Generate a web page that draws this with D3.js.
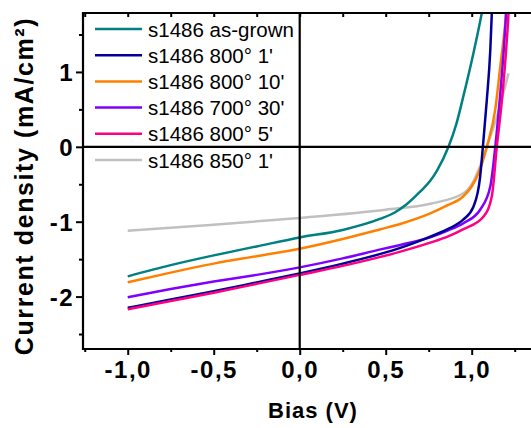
<!DOCTYPE html>
<html>
<head>
<meta charset="utf-8">
<script src="https://cdn.jsdelivr.net/npm/d3@7"></script>
<style>
  html, body { margin: 0; padding: 0; background: #fff; }
  svg { display: block; }
</style>
</head>
<body>
<svg id="chart" width="531" height="428"></svg>
<script>
// ---------------- data ----------------
const seriesNames = ["s1486 as-grown", "s1486 800° 1'", "s1486 800° 10'", "s1486 700° 30'", "s1486 800° 5'", "s1486 850° 1'"];

const asGrown = [[-1.0,-1.73],[-0.75,-1.58],[-0.5,-1.45],[-0.25,-1.33],[0,-1.21],[0.25,-1.11],[0.47,-0.96],[0.55,-0.88],[0.62,-0.77],[0.7,-0.60],[0.76,-0.45],[0.8,-0.31],[0.865,0],[0.91,0.30],[0.952,0.68],[1.01,1.25],[1.059,1.79],[1.08,2.05]];
const a800_1 = [[-1.0,-2.15],[-0.75,-2.04],[-0.5,-1.93],[-0.25,-1.81],[0,-1.69],[0.25,-1.56],[0.47,-1.43],[0.585,-1.35],[0.759,-1.20],[0.86,-1.10],[0.952,-0.97],[1.01,-0.80],[1.049,-0.40],[1.065,0],[1.088,0.63],[1.108,1.29],[1.117,1.79],[1.122,2.05]];
const a800_10 = [[-1.0,-1.81],[-0.75,-1.68],[-0.5,-1.56],[-0.25,-1.46],[0,-1.36],[0.25,-1.23],[0.47,-1.10],[0.585,-1.03],[0.759,-0.89],[0.86,-0.78],[0.952,-0.66],[1.0,-0.53],[1.04,-0.35],[1.088,0],[1.137,0.5],[1.166,1.07],[1.189,1.52],[1.2,1.79],[1.206,2.05]];
const a700_30 = [[-1.0,-2.01],[-0.75,-1.90],[-0.5,-1.80],[-0.25,-1.71],[0,-1.61],[0.25,-1.49],[0.47,-1.37],[0.585,-1.31],[0.759,-1.21],[0.86,-1.12],[0.952,-1.02],[1.049,-0.84],[1.108,-0.53],[1.137,0],[1.166,0.71],[1.189,1.38],[1.2,1.79],[1.205,2.05]];
const a800_5 = [[-1.0,-2.17],[-0.75,-2.06],[-0.5,-1.95],[-0.25,-1.83],[0,-1.71],[0.25,-1.59],[0.47,-1.47],[0.585,-1.40],[0.759,-1.28],[0.86,-1.20],[0.952,-1.10],[1.069,-0.93],[1.117,-0.66],[1.146,0],[1.176,0.63],[1.2,1.29],[1.214,1.79],[1.219,2.05]];
const a850_1 = [[-1.0,-1.12],[-0.5,-1.04],[0,-0.95],[0.5,-0.84],[0.759,-0.76],[0.952,-0.62],[1.01,-0.46],[1.05,-0.25],[1.088,0],[1.146,0.40],[1.214,0.98]];

const xMajorTicks = [-1.0, -0.5, 0, 0.5, 1.0];
const xTickLabels = ["-1,0", "-0,5", "0,0", "0,5", "1,0"];
const xMinorTicks = [-1.25, -0.75, -0.25, 0.25, 0.75, 1.25];
const yMajorTicks = [-2, -1, 0, 1];
const yTickLabels = ["-2", "-1", "0", "1"];
const yMinorTicks = [-2.5, -1.5, -0.5, 0.5, 1.5];

// ---------------- styles ----------------
const seriesData = [asGrown, a800_1, a800_10, a700_30, a800_5, a850_1];
const colors = ["#008080", "#000099", "#FF8000", "#8000FF", "#FF0080", "#C0C0C0"];
const drawOrder = [5, 0, 2, 3, 1, 4];

const svg = d3.select("#chart");
const L = 83, T = 13, B = 349, R = 557.7;
const x = d3.scaleLinear().domain([-1.26, 1.5]).range([L, R]);
const y = d3.scaleLinear().domain([-2.7, 1.787]).range([B, T]);

const boldFont = "'Liberation Sans', Arial, sans-serif";

svg.append("defs").append("clipPath").attr("id", "clip")
  .append("rect").attr("x", L).attr("y", T).attr("width", R - L).attr("height", B - T);

// curves
const line = d3.line().x(d => x(d[0])).y(d => y(d[1])).curve(d3.curveMonotoneX);
const gLines = svg.append("g").attr("clip-path", "url(#clip)");
drawOrder.forEach(i => {
  gLines.append("path").datum(seriesData[i])
    .attr("d", line).attr("fill", "none")
    .attr("stroke", colors[i]).attr("stroke-width", 2.5)
    .attr("stroke-linejoin", "round");
});

// zero lines
svg.append("line").attr("x1", L).attr("x2", 531).attr("y1", y(0)).attr("y2", y(0))
  .attr("stroke", "#000").attr("stroke-width", 2.2);
svg.append("line").attr("x1", x(0)).attr("x2", x(0)).attr("y1", T).attr("y2", B)
  .attr("stroke", "#000").attr("stroke-width", 2.2);

// axes
function styleAxis(g) {
  g.select(".domain").remove();
  g.selectAll(".tick line").attr("stroke", "#000").attr("stroke-width", 2);
}
const xAxis = svg.append("g").attr("transform", `translate(0,${B})`)
  .call(d3.axisBottom(x).tickValues(xMajorTicks).tickSize(6).tickFormat((d, i) => xTickLabels[i]));
styleAxis(xAxis);
xAxis.selectAll("text").attr("y", 29).attr("dy", null)
  .attr("font-family", boldFont).attr("font-size", 24).attr("font-weight", "bold")
  .attr("letter-spacing", "1.5px").attr("fill", "#000");
const xMinor = svg.append("g").attr("transform", `translate(0,${B})`)
  .call(d3.axisBottom(x).tickValues(xMinorTicks).tickSize(3).tickFormat(""));
styleAxis(xMinor);

const xTop = svg.append("g").attr("transform", `translate(0,${T})`)
  .call(d3.axisBottom(x).tickValues(xMajorTicks.concat(xMinorTicks)).tickSize(4).tickFormat(""));
styleAxis(xTop);

const yAxis = svg.append("g").attr("transform", `translate(${L},0)`)
  .call(d3.axisLeft(y).tickValues(yMajorTicks).tickSize(7).tickFormat((d, i) => yTickLabels[i]));
styleAxis(yAxis);
yAxis.selectAll("text").attr("x", -9).attr("dy", "0.36em")
  .attr("font-family", boldFont).attr("font-size", 24).attr("font-weight", "bold")
  .attr("letter-spacing", "1.5px").attr("fill", "#000");
const yMinor = svg.append("g").attr("transform", `translate(${L},0)`)
  .call(d3.axisLeft(y).tickValues(yMinorTicks).tickSize(4).tickFormat(""));
styleAxis(yMinor);

// frame
svg.append("path")
  .attr("d", `M531,${T}H${L}V${B}H531`)
  .attr("fill", "none").attr("stroke", "#000").attr("stroke-width", 2.2);

// axis titles
svg.append("text").attr("x", 313).attr("y", 418).attr("text-anchor", "middle")
  .attr("font-family", boldFont).attr("font-size", 22).attr("font-weight", "bold")
  .attr("letter-spacing", "1px").text("Bias (V)");
svg.append("text").attr("transform", "translate(33,186) rotate(-90)").attr("text-anchor", "middle")
  .attr("font-family", boldFont).attr("font-size", 25).attr("font-weight", "bold")
  .attr("letter-spacing", "1.6px").text("Current density (mA/cm²)");

// legend
const legend = svg.append("g");
seriesNames.forEach((name, i) => {
  const cy = 29 + i * 26.2;
  legend.append("line").attr("x1", 95).attr("x2", 142).attr("y1", cy).attr("y2", cy)
    .attr("stroke", colors[i]).attr("stroke-width", 2.5);
  legend.append("text").attr("x", 148).attr("y", cy + 7.5)
    .attr("font-family", "'Liberation Sans', Arial, sans-serif").attr("font-size", 20.5)
    .attr("fill", "#000").text(name);
});
</script>
</body>
</html>
